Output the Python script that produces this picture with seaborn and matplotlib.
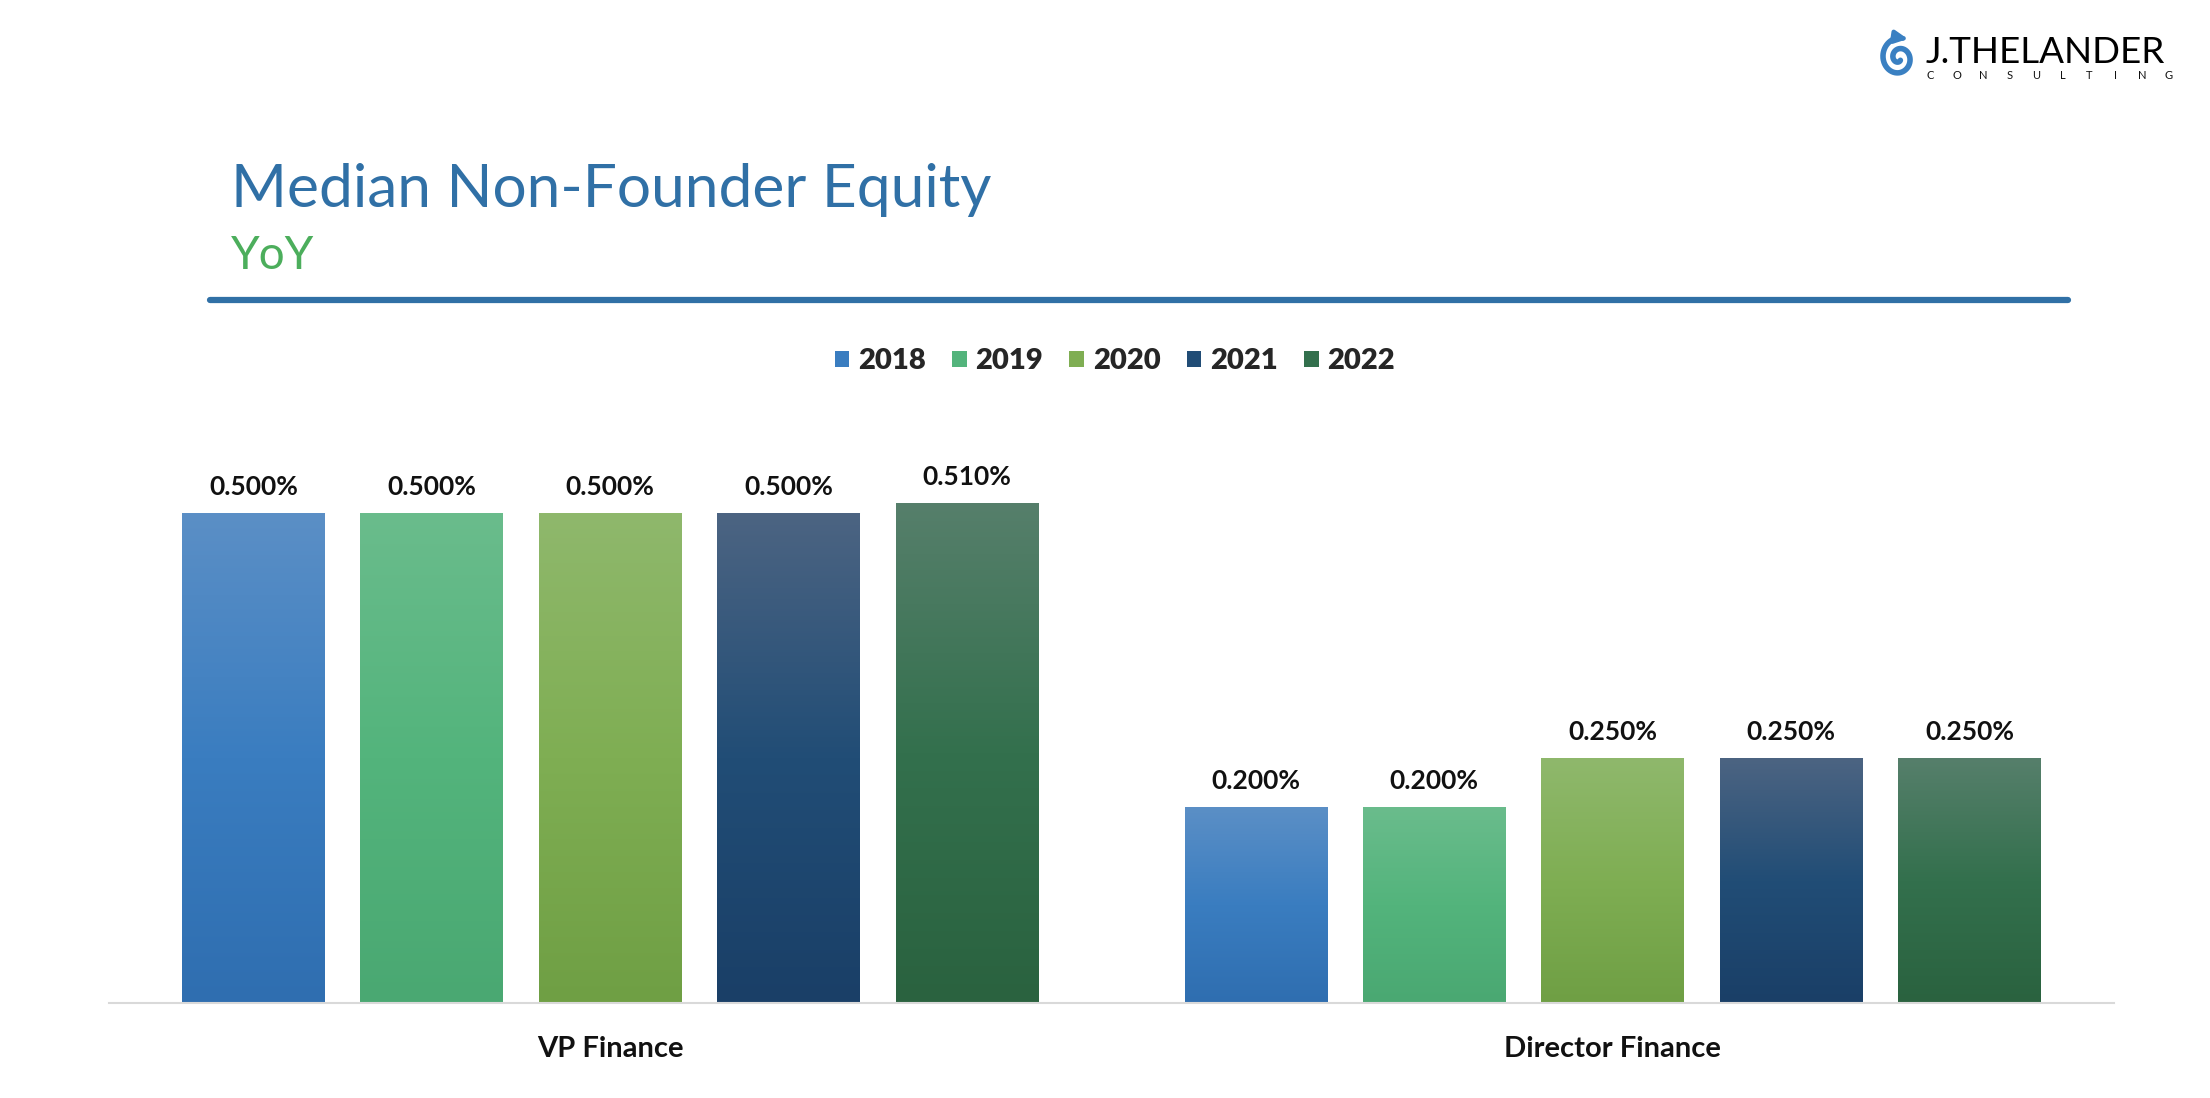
import numpy as np
import pandas as pd
import seaborn as sns
import matplotlib.pyplot as plt
from matplotlib.colors import LinearSegmentedColormap
from matplotlib.patches import Patch
from matplotlib.lines import Line2D

# data
roles = ["VP Finance", "Director Finance"]
years = ["2018", "2019", "2020", "2021", "2022"]
vp_equity = [0.500, 0.500, 0.500, 0.500, 0.510]
director_equity = [0.200, 0.200, 0.250, 0.250, 0.250]

# gradient colours per year: top, middle, bottom
top_colors = ["#5b8fc6", "#6abc8c", "#8fb86c", "#4c6482", "#567f6b"]
mid_colors = ["#3a7dc0", "#53b47c", "#7fae53", "#214d76", "#33704d"]
bot_colors = ["#2f6eb0", "#4aa872", "#6f9f44", "#1a3f67", "#2a623f"]

df = pd.DataFrame({
    "role": np.repeat(roles, len(years)),
    "year": years * len(roles),
    "equity": vp_equity + director_equity,
})

sns.set_theme(style="white")
plt.rcParams["font.family"] = ["Lato", "DejaVu Sans"]

W, H = 2210, 1098
fig = plt.figure(figsize=(W / 100, H / 100), dpi=100)
ax = fig.add_axes([0.0493, 0.0865, 0.9073, 0.5355])

sns.barplot(data=df, x="role", y="equity", hue="year", order=roles,
            hue_order=years, palette=mid_colors, width=0.89, gap=0.2,
            saturation=1, ax=ax, legend=False)

# vertical gradient fill on every bar
for i, cont in enumerate(ax.containers):
    cmap = LinearSegmentedColormap.from_list(
        f"g{i}", [bot_colors[i], mid_colors[i], top_colors[i]])
    grad = np.linspace(0, 1, 256).reshape(-1, 1)
    for bar in cont:
        x0 = bar.get_x()
        w = bar.get_width()
        h = bar.get_height()
        im = ax.imshow(grad, cmap=cmap, aspect="auto", origin="lower",
                       extent=[x0, x0 + w, 0, h], zorder=bar.get_zorder() + 0.1)
        im.set_clip_path(bar)
    ax.bar_label(cont, labels=[f"{v:.3f}%" for v in cont.datavalues],
                 padding=10, fontsize=19, fontweight="bold", color="#111111")

ax.set_xlim(-0.5, 1.5)
ax.set_ylim(0, 0.6)
ax.set_xlabel("")
ax.set_ylabel("")
ax.set_yticks([])
ax.tick_params(axis="x", length=0, pad=24, labelsize=21)
for lbl in ax.get_xticklabels():
    lbl.set_fontweight("bold")
    lbl.set_color("#111111")
for s in ["top", "right", "left"]:
    ax.spines[s].set_visible(False)
ax.spines["bottom"].set_color("#d9d9d9")
ax.spines["bottom"].set_linewidth(1.5)

# legend
handles = [Patch(facecolor=c, edgecolor="none") for c in mid_colors]
leg = fig.legend(handles, years, loc="center", bbox_to_anchor=(0.5045, 0.671),
                 ncol=5, frameon=False, handlelength=0.5, handleheight=0.5,
                 handletextpad=0.3, columnspacing=0.9,
                 prop={"size": 21, "weight": "heavy"})

# title block
fig.text(0.1045, 0.8115, "Median Non-Founder Equity", fontsize=43.5,
         color="#3070a6", va="baseline", ha="left")
fig.text(0.1045, 0.755, "YoY", fontsize=33, color="#4cae5c",
         va="baseline", ha="left")
fig.add_artist(Line2D([0.095, 0.9357], [0.7268, 0.7268], color="#3070a6",
                      linewidth=4.5, solid_capstyle="round",
                      transform=fig.transFigure))

# logo: spiral with arrow, drawn in a small pixel-scaled axes
lx0, ly0, lw, lh = 1874, 20, 52, 70
lax = fig.add_axes([lx0 / W, 1 - (ly0 + lh) / H, lw / W, lh / H])
lax.set_xlim(0, lw)
lax.set_ylim(0, lh)
lax.axis("off")
th = np.linspace(0, 3.3 * np.pi, 400)
r = 2.5 + 16.5 * th / th[-1]
phi = np.pi / 2 + th[-1] - 0.35
sx = 25 + r * np.cos(phi - th)
sy = 32 + 1.1 * r * np.sin(phi - th)
lax.plot(sx[:-12], sy[:-12], color="#3a80c2", linewidth=4.0,
         solid_capstyle="round")
lax.annotate("", xy=(sx[-1] + 5, sy[-1] - 1), xytext=(sx[-14], sy[-14]),
             arrowprops=dict(arrowstyle="-|>", color="#3a80c2", lw=3.2,
                             mutation_scale=18))

fig.text(1926 / W, 1 - 63 / H, "J.THELANDER", fontsize=26.5, color="#000000",
         va="baseline", ha="left", fontweight="normal")
logo_sub = "CONSULTING"
for k, ch in enumerate(logo_sub):
    fig.text((1930 + k * 26.5) / W, 1 - 79 / H, ch, fontsize=8,
             color="#111111", va="baseline", ha="center")

fig.savefig("out.png", dpi=100, facecolor="white")
